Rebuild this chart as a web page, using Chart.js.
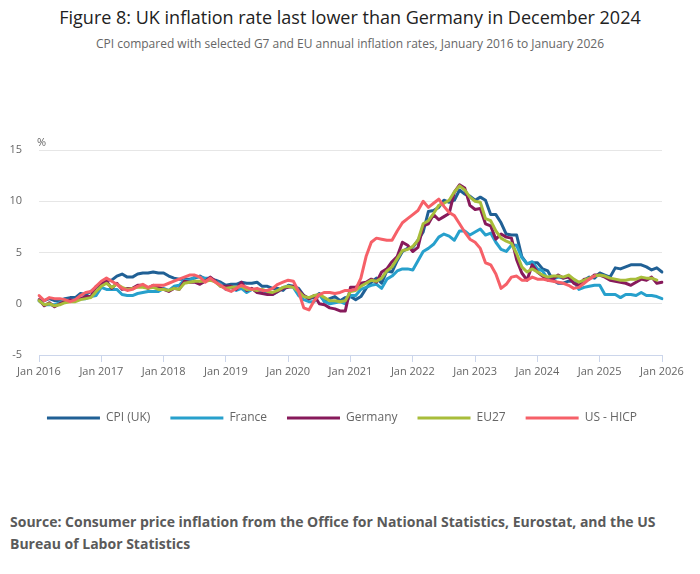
<!DOCTYPE html>
<html>
<head>
<meta charset="utf-8">
<script src="https://cdn.jsdelivr.net/npm/chart.js@4.4.1/dist/chart.umd.min.js"></script>
<style>
	body { margin: 0; background: #fff; font-family: "Open Sans", sans-serif; }
	#wrap { position: relative; width: 700px; height: 574px; overflow: hidden; }
	#title { position: absolute; top: 5px; left: 0; width: 700px; text-align: center; font-size: 18px; color: #222; }
	#subtitle { position: absolute; top: 35px; left: 0; width: 700px; text-align: center; font-size: 12px; color: #666; }
	#chartBox { position: absolute; left: 0; top: 120px; width: 700px; height: 314px; }
	#source { position: absolute; left: 10px; top: 511px; width: 680px; font-size: 14px; font-weight: bold; line-height: 22px; color: #5a5a5a; }
</style>
</head>
<body>
<div id="wrap">
	<div id="title">Figure 8: UK inflation rate last lower than Germany in December 2024</div>
	<div id="subtitle">CPI compared with selected G7 and EU annual inflation rates, January 2016 to January 2026</div>
	<div id="chartBox"><canvas id="chart1"></canvas></div>
	<div id="source">Source: Consumer price inflation from the Office for National Statistics, Eurostat, and the US Bureau of Labor Statistics</div>
</div>
<script>
//data, monthly Jan 2016 to Jan 2026
const monthNames = ['Jan','Feb','Mar','Apr','May','Jun','Jul','Aug','Sep','Oct','Nov','Dec'];
const years = [2016,2017,2018,2019,2020,2021,2022,2023,2024,2025,2026];
const seriesNames = ['CPI (UK)','France','Germany','EU27','US - HICP'];
const seriesColors = ['#206095','#27a0cc','#871a5b','#a8bd3a','#f66068'];
const yTicks = [-5,0,5,10,15];

const cpiUK = [
	0.3,0.3,0.5,0.3,0.3,0.5,0.6,0.6,1.0,0.9,1.2,1.6,
	1.8,2.3,2.3,2.7,2.9,2.6,2.6,2.9,3.0,3.0,3.1,3.0,
	3.0,2.7,2.5,2.4,2.4,2.4,2.5,2.7,2.4,2.4,2.3,2.1,
	1.8,1.9,1.9,2.1,2.0,2.0,2.1,1.7,1.7,1.5,1.5,1.3,
	1.8,1.7,1.5,0.8,0.5,0.6,1.0,0.2,0.5,0.7,0.3,0.6,
	0.7,0.4,0.7,1.5,2.1,2.5,2.0,3.2,3.1,4.2,5.1,5.4,
	5.5,6.2,7.0,9.0,9.1,9.4,10.1,9.9,10.1,11.1,10.7,10.5,
	10.1,10.4,10.1,8.7,8.7,7.9,6.8,6.7,6.7,4.6,3.9,4.0,
	4.0,3.4,3.2,2.3,2.0,2.0,2.2,2.2,1.7,2.3,2.6,2.5,
	3.0,2.8,2.6,3.5,3.4,3.6,3.8,3.8,3.8,3.6,3.3,3.5,
	3.1
];
const france = [
	0.3,-0.1,-0.1,-0.1,0.1,0.3,0.4,0.4,0.5,0.5,0.7,0.8,
	1.6,1.4,1.4,1.4,0.9,0.8,0.8,1.0,1.1,1.2,1.2,1.2,
	1.5,1.3,1.7,1.8,2.3,2.3,2.6,2.6,2.5,2.5,2.2,1.9,
	1.4,1.6,1.3,1.5,1.1,1.4,1.3,1.3,1.1,0.9,1.2,1.6,
	1.7,1.6,0.8,0.4,0.2,0.2,0.9,0.2,0.0,0.1,0.2,0.0,
	0.8,0.8,1.4,1.6,1.8,1.9,1.5,2.4,2.7,3.2,3.4,3.4,
	3.3,4.2,5.1,5.4,5.8,6.5,6.8,6.6,6.2,7.1,7.1,6.7,
	7.0,7.3,6.7,6.9,6.0,5.3,5.1,5.7,5.7,4.5,3.9,4.1,
	3.4,3.2,2.4,2.4,2.6,2.5,2.7,2.2,1.4,1.6,1.7,1.8,
	1.8,0.9,0.9,0.9,0.6,0.9,0.9,0.8,1.1,0.8,0.8,0.7,
	0.5
];
const germany = [
	0.4,-0.2,0.1,-0.3,0.0,0.2,0.4,0.3,0.5,0.7,0.7,1.7,
	1.9,2.2,1.5,2.0,1.4,1.5,1.5,1.8,1.8,1.5,1.8,1.6,
	1.4,1.2,1.5,1.4,2.2,2.1,2.1,1.9,2.2,2.6,2.2,1.7,
	1.7,1.7,1.4,2.1,1.3,1.5,1.1,1.0,0.9,0.9,1.2,1.5,
	1.6,1.7,1.3,0.8,0.5,0.8,0.0,-0.1,-0.4,-0.5,-0.7,-0.7,
	1.6,1.6,2.0,2.1,2.4,2.1,3.1,3.4,4.1,4.6,6.0,5.7,
	5.1,5.5,7.6,7.8,8.7,8.2,8.5,8.8,10.9,11.6,11.3,9.6,
	9.2,9.3,7.8,7.6,6.3,6.8,6.5,6.4,4.3,3.0,2.3,3.8,
	3.1,2.7,2.3,2.4,2.8,2.5,2.6,2.0,1.8,2.4,2.4,2.8,
	2.8,2.6,2.3,2.2,2.1,2.0,1.8,2.1,2.4,2.3,2.6,2.0,
	2.1
];
const eu27 = [
	0.3,-0.1,0.0,-0.2,-0.1,0.1,0.2,0.2,0.4,0.5,0.6,1.2,
	1.7,2.0,1.6,1.9,1.6,1.4,1.5,1.6,1.6,1.5,1.6,1.4,
	1.4,1.3,1.5,1.4,2.0,2.1,2.2,2.2,2.2,2.3,2.1,1.7,
	1.5,1.6,1.6,1.7,1.4,1.4,1.3,1.4,1.2,1.1,1.3,1.6,
	1.7,1.6,1.2,0.7,0.6,0.8,0.9,0.6,0.3,0.3,0.2,0.3,
	1.2,1.3,1.7,2.0,2.3,2.2,2.5,3.2,3.6,4.4,5.2,5.3,
	5.6,6.2,7.8,8.1,8.8,9.6,9.8,10.1,10.9,11.5,11.1,10.4,
	10.0,9.9,8.3,8.1,7.1,6.4,6.1,5.9,4.9,3.6,3.1,3.4,
	3.1,2.8,2.6,2.7,2.7,2.6,2.8,2.4,2.1,2.3,2.5,2.7,
	2.8,2.7,2.5,2.4,2.3,2.3,2.4,2.4,2.6,2.5,2.5,2.3
];
const usHICP = [
	0.8,0.3,0.6,0.5,0.5,0.4,0.2,0.4,0.8,1.1,1.2,1.7,
	2.2,2.5,2.2,1.9,1.5,1.3,1.4,1.7,1.9,1.6,1.8,1.8,
	1.8,2.0,2.2,2.4,2.6,2.8,2.8,2.6,2.1,2.5,2.1,1.8,
	1.4,1.2,1.5,1.8,1.6,1.4,1.5,1.3,1.3,1.5,1.9,2.1,
	2.3,2.2,1.2,-0.4,-0.6,0.3,0.9,1.1,1.1,1.0,1.1,1.3,
	1.3,1.4,2.5,4.6,6.0,6.4,6.3,6.2,6.2,7.1,7.9,8.3,
	8.7,9.1,10.0,9.4,9.8,10.2,9.5,8.9,8.6,7.8,7.0,6.3,
	6.0,5.4,4.0,3.8,2.9,1.5,1.9,2.6,2.7,2.3,2.3,2.6,
	2.4,2.4,2.3,2.2,2.1,2.0,1.8,1.5,1.6,2.0,2.4,2.7
];
const seriesData = [cpiUK, france, germany, eu27, usHICP];

//month labels, stop at Jan 2026
const categories = [];
years.forEach(y => {
	monthNames.forEach(m => {
		if(y < 2026 || m == 'Jan') categories.push(m + ' ' + y);
	});
});

const fontFamily = '"Open Sans", sans-serif';
const axisColor = '#ccd6eb';
const labelColor = '#666666';

//draws the % unit above the value axis
const percentLabel = {
	id: 'percentLabel',
	afterDraw(chart) {
		const {ctx, chartArea} = chart;
		ctx.save();
		ctx.font = '11px ' + fontFamily;
		ctx.fillStyle = labelColor;
		ctx.textAlign = 'left';
		ctx.textBaseline = 'middle';
		ctx.fillText('%', chartArea.left - 2, chartArea.top - 7);
		ctx.restore();
	}
};

//legend box only spans the plot width, nudge it to sit centred on the page
const legendShift = {
	id: 'legendShift',
	afterLayout(chart) {
		if(chart.legend) {
			chart.legend.left += 11;
			chart.legend.right += 11;
		}
	}
};

let config = {
	type: 'line',
	data: {
		labels: categories,
		datasets: seriesData.map((row, index) => {
			return {
				label: seriesNames[index],
				data: row,
				borderColor: seriesColors[index],
				backgroundColor: seriesColors[index],
				borderWidth: 3,
				borderJoinStyle: 'round',
				borderCapStyle: 'round',
				pointRadius: 0,
				pointHoverRadius: 0,
				tension: 0,
				fill: false,
				order: seriesData.length - index //later series drawn on top
			};
		})
	},
	options: {
		responsive: true,
		maintainAspectRatio: false,
		animation: false,
		layout: {
			padding: { left: 0, right: 38, top: 30, bottom: 0 }
		},
		plugins: {
			title: { display: false },
			tooltip: { enabled: false },
			legend: {
				position: 'bottom',
				labels: {
					boxWidth: 53,
					boxHeight: 3,
					padding: 20,
					color: labelColor,
					font: { size: 12, family: fontFamily },
					sort: (a, b) => a.datasetIndex - b.datasetIndex,
					generateLabels: function(chart) {
						return Chart.defaults.plugins.legend.labels.generateLabels(chart).map(item => {
							item.lineWidth = 0;
							return item;
						});
					}
				}
			}
		},
		scales: {
			x: {
				ticks: {
					autoSkip: false,
					maxRotation: 0,
					padding: 3,
					color: labelColor,
					font: { size: 11, family: fontFamily },
					callback: function(value, index) {
						return index % 12 == 0 ? categories[index] : '';
					}
				},
				grid: {
					drawOnChartArea: false,
					tickLength: 7,
					color: ctx => ctx.index % 12 == 0 ? axisColor : 'rgba(0,0,0,0)'
				},
				border: { color: axisColor, width: 1 },
				afterFit: function(scale) { scale.height = 37; }
			},
			y: {
				min: yTicks[0],
				max: yTicks[yTicks.length - 1],
				afterBuildTicks: function(scale) {
					scale.ticks = yTicks.map(v => ({ value: v }));
				},
				ticks: {
					padding: 17,
					color: labelColor,
					font: { size: 11, family: fontFamily }
				},
				grid: {
					drawTicks: false,
					color: ctx => ctx.tick && ctx.tick.value == yTicks[0] ? 'rgba(0,0,0,0)' : '#e6e6e6'
				},
				border: { display: false },
				afterFit: function(scale) { scale.width = 39; }
			}
		}
	},
	plugins: [percentLabel, legendShift]
};

window.container1 = new Chart(document.getElementById('chart1'), config);
</script>
</body>
</html>
